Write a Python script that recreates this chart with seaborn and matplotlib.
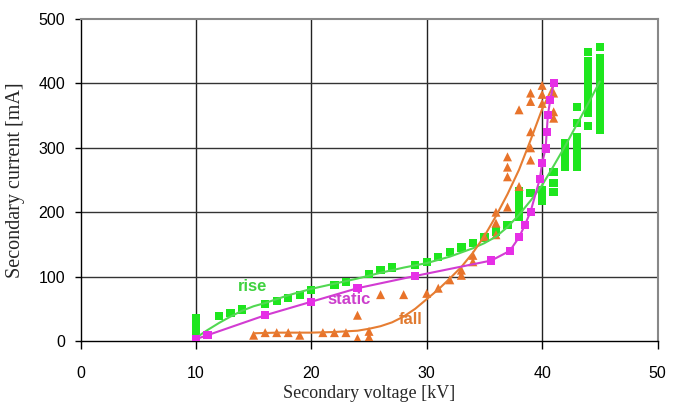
import numpy as np
import pandas as pd
import matplotlib
matplotlib.use("Agg")
import matplotlib.pyplot as plt
import seaborn as sns

# --- measured points -------------------------------------------------------
rise_kv = [10, 10, 10, 10, 12, 13, 14, 16, 17, 18, 19, 20, 22, 23, 25, 26, 27,
           29, 30, 31, 32, 33, 34, 35, 36, 37,
           38, 38, 38, 38, 38, 39,
           40, 40, 40, 41, 41, 41,
           42, 42, 42, 42, 42,
           43, 43, 43, 43, 43, 43, 43, 43,
           44, 44, 44, 44, 44, 44, 44, 44, 44, 44, 44,
           45, 45, 45, 45, 45, 45, 45, 45, 45, 45, 45, 45, 45]
rise_ma = [1, 15, 25, 35, 39, 44, 49, 57, 62, 67, 71, 79, 87, 92, 104, 110, 114,
           118, 123, 130, 138, 145, 152, 161, 170, 180,
           193, 203, 213, 223, 232, 230,
           217, 226, 234, 231, 245, 262,
           270, 279, 288, 298, 307,
           270, 279, 288, 298, 308, 317, 339, 363,
           334, 354, 364, 374, 384, 394, 404, 414, 424, 434, 449,
           328, 338, 348, 358, 368, 378, 388, 398, 408, 418, 428, 440, 457]

static_kv = [10, 11, 16, 20, 24, 29, 35.6, 37.2, 38, 38.5, 39, 39.8, 40, 40.3,
             40.4, 40.5, 40.7, 41]
static_ma = [3, 9, 40, 61, 82, 101, 125, 140, 161, 180, 201, 252, 276, 299,
             325, 351, 374, 400]

fall_kv = [15, 16, 17, 18, 19, 21, 22, 23, 24, 24, 25, 25, 26, 28, 30, 31, 32,
           33, 33, 34, 34, 35, 36, 36, 36, 37, 37, 37, 37, 38, 38,
           39, 39, 39, 39, 39, 40, 40, 40, 41, 41, 41]
fall_ma = [9, 13, 13, 13, 9, 13, 13, 13, 4, 40, 6, 15, 72, 72, 74, 82, 95,
           102, 110, 123, 133, 162, 165, 183, 200, 208, 255, 270, 286, 240, 359,
           281, 300, 325, 372, 385, 369, 383, 397, 346, 356, 385]

# --- trend curves ----------------------------------------------------------
rise_fit_kv = [10, 11, 12, 13, 14, 15, 16, 17, 18, 19, 20, 22, 24, 26, 28, 30,
               32, 34, 35, 36, 37, 38, 39, 40, 41, 42, 43, 44, 45]
rise_fit_ma = [5, 17, 28, 38, 47, 54, 59, 65, 71, 76, 81, 89, 97, 106, 114, 121,
               131, 144, 152, 162, 177, 196, 218, 242, 272, 303, 336, 369, 403]

fall_fit_kv = [15, 17, 20, 22, 24, 25, 26, 27, 28, 29, 30, 31, 32, 33, 34, 35,
               36, 37, 38, 39, 40, 41]
fall_fit_ma = [12, 13, 13, 14, 16, 19, 23, 29, 38, 50, 65, 80, 97, 115, 137, 163,
               194, 228, 266, 312, 360, 398]

x_ticks = [0, 10, 20, 30, 40, 50]
y_ticks = [0, 100, 200, 300, 400, 500]

GREEN = "#1ee61e"
MAGENTA = "#e62ee6"
ORANGE = "#e8732a"

sns.set_style("white")
plt.rcParams["font.family"] = ["Liberation Sans", "DejaVu Sans"]

fig = plt.figure(figsize=(6.83, 4.05), dpi=100)
ax = fig.add_axes([0.1179, 0.158, 0.8448, 0.795])

rise = pd.DataFrame({"kv": rise_kv, "ma": rise_ma})
static = pd.DataFrame({"kv": static_kv, "ma": static_ma})
fall = pd.DataFrame({"kv": fall_kv, "ma": fall_ma})
rise_fit = pd.DataFrame({"kv": rise_fit_kv, "ma": rise_fit_ma})
fall_fit = pd.DataFrame({"kv": fall_fit_kv, "ma": fall_fit_ma})

# grid behind the data
for v in x_ticks[1:-1]:
    ax.axvline(v, color="#222222", lw=1.0, zorder=0)
for v in y_ticks[1:-1]:
    ax.axhline(v, color="#333333", lw=1.0, zorder=0)

sns.scatterplot(data=rise, x="kv", y="ma", ax=ax, marker="s", s=36,
                color=GREEN, edgecolor="none", zorder=3)
sns.scatterplot(data=fall, x="kv", y="ma", ax=ax, marker="^", s=42,
                color=ORANGE, edgecolor="none", zorder=3)
sns.lineplot(data=rise_fit, x="kv", y="ma", ax=ax, color="#52d852", lw=1.5,
             estimator=None, zorder=4)
sns.lineplot(data=fall_fit, x="kv", y="ma", ax=ax, color="#e67d32", lw=1.5,
             estimator=None, zorder=4)
sns.lineplot(data=static, x="kv", y="ma", ax=ax, color="#d23cd2", lw=1.5,
             estimator=None, zorder=4)
sns.scatterplot(data=static, x="kv", y="ma", ax=ax, marker="s", s=34,
                color=MAGENTA, edgecolor="none", zorder=5)

ax.text(14.9, 85, "rise", color="#3fd23f", fontsize=12, fontweight="bold",
        ha="center", va="center")
ax.text(23.3, 64, "static", color="#cc3fcc", fontsize=12, fontweight="bold",
        ha="center", va="center")
ax.text(28.6, 33, "fall", color="#e07a30", fontsize=12, fontweight="bold",
        ha="center", va="center")

ax.set_xlim(0, 50)
ax.set_ylim(0, 500)
ax.set_xticks(x_ticks)
ax.set_yticks(y_ticks)
ax.tick_params(axis="x", direction="out", length=6, width=1, pad=12,
               labelsize=11.5, colors="black")
ax.tick_params(axis="y", direction="out", length=4, width=1, pad=7,
               labelsize=11.5, colors="black")
ax.tick_params(bottom=True, left=True)

for side in ("left", "bottom"):
    ax.spines[side].set_color("black")
    ax.spines[side].set_linewidth(1.0)
for side in ("top", "right"):
    ax.spines[side].set_color("#888888")
    ax.spines[side].set_linewidth(1.5)

ax.set_xlabel("Secondary voltage [kV]", family="Liberation Serif",
              fontsize=13, labelpad=3)
ax.set_ylabel("Secondary current [mA]", family="Liberation Serif",
              fontsize=14.5, labelpad=10)

fig.savefig("out.png", dpi=100)
